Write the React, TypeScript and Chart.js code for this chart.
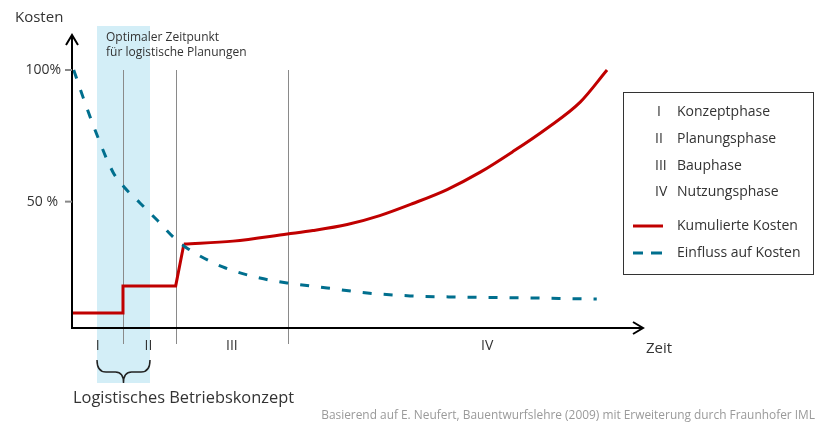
import React, { useEffect, useRef } from "react";
import { Chart, registerables } from "chart.js";

Chart.register(...registerables);

// ---- data ----
const phaseBoundaries = [8.93, 18.16, 37.78];
const focusRange = [4.38, 13.66];
const phaseLabels = ["I", "II", "III", "IV"];
const phaseLabelX = [4.5, 13.4, 28, 72.7];
const legendPhases = ["Konzeptphase", "Planungsphase", "Bauphase", "Nutzungsphase"];
const yTicks = [100, 50];
const yTickLabels = ["100%", "50 %"];

const costStepX = [0, 8.93, 8.93, 18.16, 19.6];
const costStepY = [7.7, 7.7, 18, 18, 33.9];
const costCurveX = [19.6, 28.2, 37.7, 42.2, 48.2, 53.9, 59.7, 65.7, 71.5, 77.2, 83.2, 89.0, 93.7];
const costCurveY = [33.9, 35.0, 37.7, 39.0, 41.3, 44.7, 49.3, 54.6, 61.2, 69.0, 77.9, 87.8, 100];
const influenceX = [0.3, 1.93, 4.38, 7.18, 9.28, 11.9, 14.9, 17.7, 20.1, 26.4, 32.9, 37.7, 44.7, 51.7, 59.2, 66.2, 80.7, 91.9];
const influenceY = [100, 89.7, 75.3, 61.2, 55.2, 49.5, 43.0, 36.6, 32.4, 25.2, 21.0, 19.1, 17.2, 15.3, 14.2, 13.8, 13.4, 13.0];

const RED = "#c00000";
const TEAL = "#006f8e";
const FONT = '"Open Sans", "Noto Sans", sans-serif';
const TXT = "#333333";

const toPts = (xs: number[], ys: number[]) => xs.map((x, i) => ({ x, y: ys[i] }));

const decor = {
  id: "decor",
  beforeDatasetsDraw(chart: any) {
    const { ctx, chartArea: a, scales } = chart;
    const xs = scales.x, ys = scales.y;
    ctx.save();
    // focus band
    ctx.fillStyle = "#d3eef7";
    const bx0 = xs.getPixelForValue(focusRange[0]);
    const bx1 = xs.getPixelForValue(focusRange[1]);
    ctx.fillRect(bx0, a.top - 9, bx1 - bx0, a.bottom + 55 - (a.top - 9));
    // phase lines
    ctx.strokeStyle = "#8a8a8a";
    ctx.lineWidth = 1;
    phaseBoundaries.forEach((v) => {
      const px = Math.round(xs.getPixelForValue(v)) + 0.5;
      ctx.beginPath();
      ctx.moveTo(px, ys.getPixelForValue(100));
      ctx.lineTo(px, a.bottom + 16);
      ctx.stroke();
    });
    ctx.restore();
  },
  afterDatasetsDraw(chart: any) {
    const { ctx, chartArea: a, scales } = chart;
    const xs = scales.x, ys = scales.y;
    ctx.save();
    // axes
    ctx.strokeStyle = "#000";
    ctx.lineWidth = 2;
    ctx.beginPath();
    ctx.moveTo(a.left, a.top);
    ctx.lineTo(a.left, a.bottom);
    ctx.lineTo(a.right, a.bottom);
    ctx.stroke();
    ctx.beginPath();
    ctx.moveTo(a.left - 6, a.top + 10);
    ctx.lineTo(a.left, a.top);
    ctx.lineTo(a.left + 6, a.top + 10);
    ctx.moveTo(a.right - 10, a.bottom - 6);
    ctx.lineTo(a.right, a.bottom);
    ctx.lineTo(a.right - 10, a.bottom + 6);
    ctx.stroke();
    // y ticks
    ctx.strokeStyle = "#888";
    ctx.lineWidth = 2;
    ctx.font = `14px ${FONT}`;
    ctx.fillStyle = TXT;
    ctx.textAlign = "right";
    ctx.textBaseline = "middle";
    yTicks.forEach((v, i) => {
      const py = ys.getPixelForValue(v);
      ctx.beginPath();
      ctx.moveTo(a.left - 7, py);
      ctx.lineTo(a.left, py);
      ctx.stroke();
      ctx.fillText(yTickLabels[i], a.left - 11 - (i === 1 ? 3 : 0), py);
    });
    // axis titles
    ctx.textAlign = "left";
    ctx.font = `15px ${FONT}`;
    ctx.fillText("Kosten", 15, 18);
    ctx.fillText("Zeit", a.right + 3, a.bottom + 21);
    // annotation
    ctx.font = `12px ${FONT}`;
    ctx.fillText("Optimaler Zeitpunkt", 106, 38);
    ctx.fillText("für logistische Planungen", 106, 53);
    // phase labels
    ctx.font = `14px ${FONT}`;
    ctx.textAlign = "center";
    phaseLabels.forEach((t, i) => {
      ctx.fillText(t, xs.getPixelForValue(phaseLabelX[i]), a.bottom + 18);
    });
    // brace
    const bl = xs.getPixelForValue(focusRange[0]);
    const br = xs.getPixelForValue(focusRange[1]);
    const bc = (bl + br) / 2;
    const top = a.bottom + 32, mid = a.bottom + 44, bot = a.bottom + 55;
    ctx.strokeStyle = "#222";
    ctx.lineWidth = 1.5;
    ctx.beginPath();
    ctx.moveTo(bl, top);
    ctx.quadraticCurveTo(bl, mid, bl + 9, mid);
    ctx.lineTo(bc - 8, mid);
    ctx.quadraticCurveTo(bc, mid, bc, bot);
    ctx.quadraticCurveTo(bc, mid, bc + 8, mid);
    ctx.lineTo(br - 9, mid);
    ctx.quadraticCurveTo(br, mid, br, top);
    ctx.stroke();
    ctx.textAlign = "left";
    ctx.font = `16.4px ${FONT}`;
    ctx.fillText("Logistisches Betriebskonzept", 73, a.bottom + 70);
    // source
    ctx.font = `11.9px ${FONT}`;
    ctx.fillStyle = "#9a9a9a";
    ctx.textAlign = "right";
    ctx.fillText("Basierend auf E. Neufert, Bauentwurfslehre (2009) mit Erweiterung durch Fraunhofer IML", 815, 416);
    // legend
    ctx.strokeStyle = "#333";
    ctx.lineWidth = 1;
    ctx.strokeRect(623.5, 92.5, 190, 182);
    ctx.fillStyle = TXT;
    ctx.font = `14px ${FONT}`;
    ctx.textAlign = "left";
    const rowY = [112, 139, 166, 192];
    legendPhases.forEach((t, i) => {
      ctx.fillText(phaseLabels[i], 655 + (i === 0 ? 2 : 0), rowY[i]);
      ctx.fillText(t, 677, rowY[i]);
    });
    ctx.fillText("Kumulierte Kosten", 677, 226);
    ctx.fillText("Einfluss auf Kosten", 677, 253);
    ctx.lineWidth = 3;
    ctx.strokeStyle = RED;
    ctx.beginPath();
    ctx.moveTo(633, 226);
    ctx.lineTo(663, 226);
    ctx.stroke();
    ctx.strokeStyle = TEAL;
    ctx.beginPath();
    ctx.moveTo(633, 253);
    ctx.lineTo(643, 253);
    ctx.moveTo(651, 253);
    ctx.lineTo(662, 253);
    ctx.stroke();
    ctx.restore();
  },
};

export default function App() {
  const ref = useRef<HTMLCanvasElement>(null);
  useEffect(() => {
    if (!ref.current) return;
    const chart = new Chart(ref.current, {
      type: "line",
      data: {
        datasets: [
          {
            label: "Einfluss auf Kosten",
            data: toPts(influenceX, influenceY),
            borderColor: TEAL,
            borderWidth: 3,
            borderDash: [9, 12],
            cubicInterpolationMode: "monotone",
            pointRadius: 0,
            fill: false,
          },
          {
            label: "Kumulierte Kosten",
            data: toPts(costStepX, costStepY),
            borderColor: RED,
            borderWidth: 3,
            tension: 0,
            pointRadius: 0,
            fill: false,
          },
          {
            label: "Kumulierte Kosten (Kurve)",
            data: toPts(costCurveX, costCurveY),
            borderColor: RED,
            borderWidth: 3,
            cubicInterpolationMode: "monotone",
            pointRadius: 0,
            fill: false,
          },
        ],
      } as any,
      options: {
        responsive: false,
        animation: false,
        parsing: false,
        clip: false as any,
        layout: { padding: { left: 72, right: 173, top: 35, bottom: 94 } },
        scales: {
          x: { type: "linear", min: 0, max: 100, display: false },
          y: { type: "linear", min: 2, max: 113.3, display: false },
        },
        plugins: { legend: { display: false }, tooltip: { enabled: false } },
      } as any,
      plugins: [decor],
    });
    return () => chart.destroy();
  }, []);
  return (
    <div style={{ position: "absolute", left: 0, top: 0, width: 816, height: 422, background: "#fff" }}>
      <canvas ref={ref} width={816} height={422} style={{ display: "block" }} />
    </div>
  );
}
